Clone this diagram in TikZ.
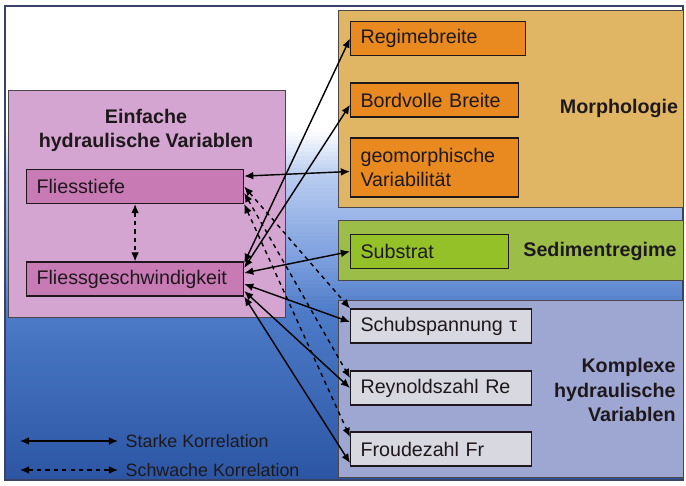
\documentclass[tikz,border=0pt]{standalone}
\usepackage{fontspec}
\setmainfont{Liberation Sans}
\usetikzlibrary{arrows.meta}

\definecolor{framecol}{RGB}{58,66,104}
\definecolor{waterdeep}{RGB}{44,86,164}
\definecolor{watermid}{RGB}{76,122,198}
\definecolor{waterpale}{RGB}{122,157,221}
\definecolor{waterlight}{RGB}{186,205,240}
\definecolor{simplegroup}{RGB}{212,165,208}
\definecolor{simplebox}{RGB}{200,122,181}
\definecolor{morphgroup}{RGB}{224,182,100}
\definecolor{morphbox}{RGB}{232,138,32}
\definecolor{sedgroup}{RGB}{156,190,72}
\definecolor{sedbox}{RGB}{148,192,40}
\definecolor{complexgroup}{RGB}{158,166,210}
\definecolor{complexbox}{RGB}{216,216,224}
\definecolor{inkcol}{RGB}{30,24,28}

\tikzset{
  groupbox/.style={draw=inkcol!80, line width=0.6pt},
  varbox/.style={draw=inkcol, line width=0.8pt, anchor=west, inner xsep=0.25cm,
    minimum height=0.85cm, align=left, font=\fontsize{14}{17.5}\selectfont, text=inkcol},
  grouptitle/.style={font=\fontsize{14}{17.5}\selectfont\bfseries, text=inkcol},
  legendtext/.style={anchor=west, inner sep=0pt, font=\fontsize{12.7}{15}\selectfont, text=inkcol},
}

\begin{document}
\begin{tikzpicture}[x=0.025cm, y=-0.025cm, line width=1pt,
    >={Latex[length=6.5pt,width=5.5pt]}]
  \useasboundingbox (0,0) rectangle (686,486);
  % background: bands from white to deep blue
  \fill[white] (5,6) rectangle (683,129);
  \foreach \yy in {128,132,...,168} {
    \pgfmathtruncatemacro\pct{(\yy-128)/44*100}
    \fill[waterlight!\pct!white] (5,\yy) rectangle (683,\yy+4.6);
  }
  \foreach \yy in {172,176,...,256} {
    \pgfmathtruncatemacro\pct{(\yy-172)/88*100}
    \fill[waterpale!\pct!waterlight] (5,\yy) rectangle (683,\yy+4.6);
  }
  \foreach \yy in {260,264,...,308} {
    \pgfmathtruncatemacro\pct{(\yy-260)/52*100}
    \fill[watermid!\pct!waterpale] (5,\yy) rectangle (683,\yy+4.6);
  }
  \foreach \yy in {312,316,...,476} {
    \pgfmathtruncatemacro\pct{(\yy-312)/164*100}
    \fill[waterdeep!\pct!watermid] (5,\yy) rectangle (683,\yy+4);
  }
  \draw[framecol, line width=1.6pt] (5,6) rectangle (683,480);
  % groups
  \draw[groupbox, fill=simplegroup] (8,90) rectangle (285,317);
  \draw[groupbox, fill=morphgroup] (338,10) rectangle (683,207);
  \draw[groupbox, fill=sedgroup] (338,220) rectangle (683,280);
  \draw[groupbox, fill=complexgroup] (338,300) rectangle (683,477);
  \draw
    (146,130.5) node[grouptitle, align=center] (simpletitle) {Einfache\\hydraulische Variablen}
    (619,108) node[grouptitle] (morphtitle) {Morphologie}
    (600,251) node[grouptitle] (sedtitle) {Sedimentregime}
    (681,390) node[grouptitle, align=right, anchor=east] (complextitle) {Komplexe\\hydraulische\\Variablen};
  % variables
  \draw
    (26,186.5) node[varbox, fill=simplebox, text width=4.925cm] (ft) {Fliesstiefe}
    (26,279) node[varbox, fill=simplebox, text width=4.925cm] (fg) {Fliessgeschwindigkeit}
    (350,38.5) node[varbox, fill=morphbox, text width=3.875cm] (regime) {Regimebreite}
    (350,100) node[varbox, fill=morphbox, text width=3.7cm] (bordvolle) {Bordvolle Breite}
    (350,167.5) node[varbox, fill=morphbox, text width=3.7cm, minimum height=1.475cm] (geomorph) {geomorphische\\Variabilität}
    (350,251.5) node[varbox, fill=sedbox, text width=3.45cm] (substrat) {Substrat}
    (350,326) node[varbox, fill=complexbox, text width=4.025cm] (schub) {Schubspannung τ}
    (350,388) node[varbox, fill=complexbox, text width=4.025cm] (reynolds) {Reynoldszahl Re}
    (350,449) node[varbox, fill=complexbox, text width=4.025cm] (froude) {Froudezahl Fr};
  % legend
  \coordinate (strongA) at (20,441);
  \coordinate (strongB) at (118,441);
  \coordinate (weakA) at (20,470);
  \coordinate (weakB) at (118,470);
  \draw
    (125,441) node[legendtext] (stronglabel) {Starke Korrelation}
    (125,470) node[legendtext] (weaklabel) {Schwache Korrelation};
  \begin{scope}[<->]
    \draw ([yshift=0.4cm]fg.east) to (regime.west);
    \draw ([yshift=0.275cm]fg.east) to ([yshift=-0.12cm]bordvolle.west);
    \draw ([yshift=0.26cm]ft.east) to ([yshift=-0.1cm]geomorph.west);
    \draw ([yshift=0.15cm]fg.east) to (substrat.west);
    \draw ([yshift=-0.125cm]fg.east) to ([yshift=0.1cm]schub.west);
    \draw ([yshift=-0.3cm]fg.east) to (reynolds.west);
    \draw (fg.south east) to ([yshift=-0.35cm]froude.west);
    \draw (strongA) to (strongB);
  \end{scope}
  \begin{scope}[<->, dashed]
    \draw (ft.south) to (fg.north);
    \draw (ft.east) to (schub.north west);
    \draw ([yshift=-0.16cm]ft.east) to ([yshift=0.25cm]reynolds.west);
    \draw (ft.south east) to ([yshift=0.3cm]froude.west);
    \draw (weakA) to (weakB);
  \end{scope}
\end{tikzpicture}
\end{document}
